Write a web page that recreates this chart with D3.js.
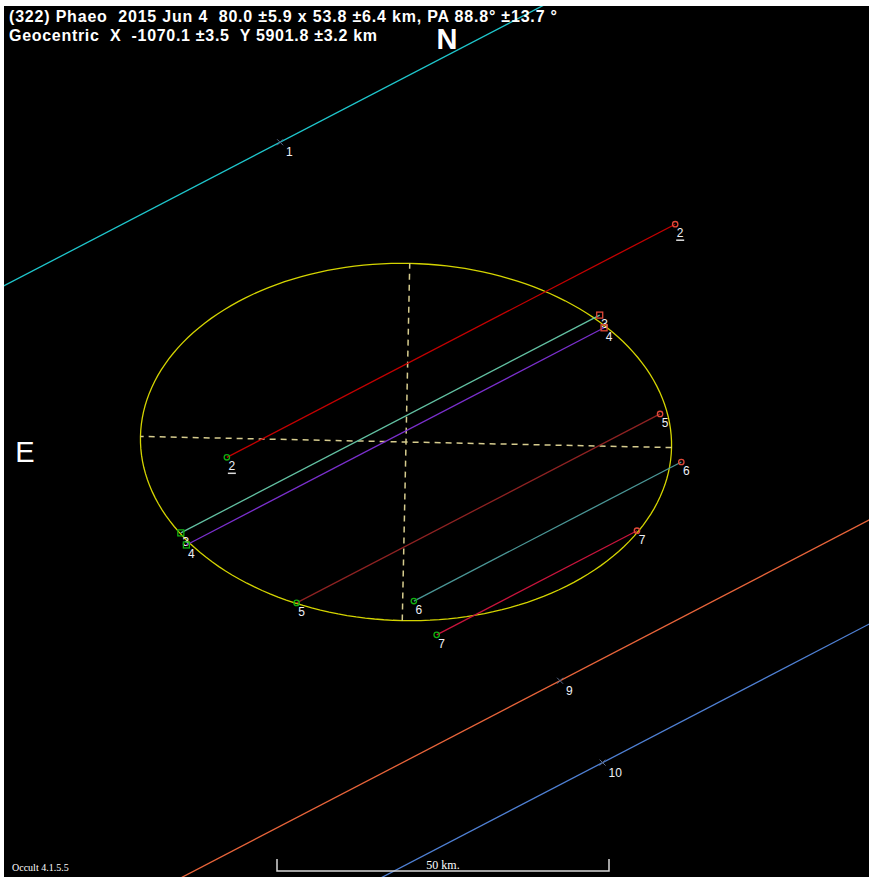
<!DOCTYPE html>
<html>
<head>
<meta charset="utf-8">
<script src="https://cdn.jsdelivr.net/npm/d3@7"></script>
<style>
  body { margin: 0; background: #fff; }
  text { font-family: "Liberation Sans", Arial, sans-serif; white-space: pre; }
</style>
</head>
<body>
<div id="plot"></div>
<script>
// chords, km relative to the fitted centre: offset across track, start/end along track
var chordIds     = ["1", "2", "3", "4", "5", "6", "7", "9", "10"];
var chordOffsets = [48.8, 10.4, 3.5, 1.5, -13.9, -21.8, -27.9, -42.6, -56.5];
var chordStarts  = [null, -25.0, -36.4, -36.5, -25.8, -10.0, -9.3, null, null];
var chordEnds    = [null, 51.1, 34.7, 34.4, 35.9, 35.4, 24.7, null, null];
var chordColors  = ["#1fc6cc", "#c40000", "#62c0a2", "#7a2fcc", "#8e2222", "#4a9696", "#c8143c", "#e8643a", "#4f80d4"];
var chordSquare  = [false, false, true, true, false, false, false, false, false];
var chordUnderline = [false, true, false, false, false, false, false, false, false];
var missTickAlong = 4.0;

// fitted ellipse
var majorAxis = 80.0, minorAxis = 53.8, posAngle = 88.8;
var motionAngle = 27.47;   // degrees, track direction on the sky plot

var titleLines = [
  "(322) Phaeo  2015 Jun 4  80.0 \u00b15.9 x 53.8 \u00b16.4 km, PA 88.8\u00b0 \u00b113.7 \u00b0",
  "Geocentric  X  -1070.1 \u00b13.5  Y 5901.8 \u00b13.2 km"
];
var titleWidths = [548, 368];
var scaleKm = 50;

var W = 869, H = 877;
var box = {left: 4, top: 6, right: 869, bottom: 877};
var cx = 406, cy = 442, pxPerKm = 6.64;

var svg = d3.select("#plot").append("svg")
    .attr("width", W)
    .attr("height", H);

svg.append("rect").attr("width", W).attr("height", H).attr("fill", "#fff");
svg.append("rect")
    .attr("x", box.left).attr("y", box.top)
    .attr("width", box.right - box.left).attr("height", box.bottom - box.top)
    .attr("fill", "#000");

svg.append("clipPath").attr("id", "clip")
  .append("rect")
    .attr("x", box.left).attr("y", box.top)
    .attr("width", box.right - box.left).attr("height", box.bottom - box.top);

var x = d3.scaleLinear()
  .domain([(box.left - cx) / pxPerKm, (box.right - cx) / pxPerKm])
  .range([box.left, box.right]);
var y = d3.scaleLinear()
  .domain([(cy - box.bottom) / pxPerKm, (cy - box.top) / pxPerKm])
  .range([box.bottom, box.top]);

var th = motionAngle * Math.PI / 180;
var dir = [Math.cos(th), Math.sin(th)];
var nrm = [-Math.sin(th), Math.cos(th)];
function trackPt(off, along) {
  return [nrm[0] * off + dir[0] * along, nrm[1] * off + dir[1] * along];
}

var g = svg.append("g").attr("clip-path", "url(#clip)");

// ellipse, axis direction from PA (east to the left)
var pa = posAngle * Math.PI / 180;
var u = [-Math.sin(pa), Math.cos(pa)];
var v = [-u[1], u[0]];
if (v[1] < 0) v = [-v[0], -v[1]];
var a = majorAxis / 2, b = minorAxis / 2;

var ellPts = d3.range(0, 361, 2).map(function(t) {
  var r = t * Math.PI / 180;
  return [a * Math.cos(r) * u[0] + b * Math.sin(r) * v[0],
          a * Math.cos(r) * u[1] + b * Math.sin(r) * v[1]];
});
var line = d3.line().x(function(d) { return x(d[0]); }).y(function(d) { return y(d[1]); });

g.append("path")
    .attr("d", line(ellPts) + "Z")
    .attr("fill", "none")
    .attr("stroke", "#d4d400")
    .attr("stroke-width", 1.3);

[[u, a], [v, b]].forEach(function(ax) {
  g.append("path")
      .attr("d", line([[-ax[0][0] * ax[1], -ax[0][1] * ax[1]], [ax[0][0] * ax[1], ax[0][1] * ax[1]]]))
      .attr("stroke", "#d6cc8e")
      .attr("stroke-width", 1.5)
      .attr("stroke-dasharray", "6,5");
});

// chords
chordIds.forEach(function(id, i) {
  var off = chordOffsets[i];
  var miss = chordStarts[i] === null;
  var s = miss ? -150 : chordStarts[i];
  var e = miss ? 150 : chordEnds[i];
  g.append("path")
      .attr("d", line([trackPt(off, s), trackPt(off, e)]))
      .attr("stroke", chordColors[i])
      .attr("stroke-width", 1.3);

  var pts = miss ? [trackPt(off, missTickAlong)] : [trackPt(off, s), trackPt(off, e)];
  pts.forEach(function(p, k) {
    var px = x(p[0]), py = y(p[1]);
    if (miss) {
      g.append("path")
          .attr("d", "M" + (px - 3) + "," + (py - 3) + "L" + (px + 3) + "," + (py + 3) +
                     "M" + (px - 3) + "," + (py + 3) + "L" + (px + 3) + "," + (py - 3))
          .attr("stroke", "#5a6a8a")
          .attr("stroke-width", 1);
    } else {
      var col = k === 0 ? "#10b010" : "#e04838";
      if (chordSquare[i]) {
        g.append("rect")
            .attr("x", px - 3).attr("y", py - 3)
            .attr("width", 6).attr("height", 6)
            .attr("fill", "none").attr("stroke", col).attr("stroke-width", 1.3);
      } else {
        g.append("circle")
            .attr("cx", px).attr("cy", py).attr("r", 2.7)
            .attr("fill", "none").attr("stroke", col).attr("stroke-width", 1.3);
      }
    }
    var lx = px + (miss ? 6 : 5), ly = py + (miss ? 10 : 9);
    g.append("text")
        .attr("x", lx).attr("y", ly + 4)
        .attr("text-anchor", miss ? "start" : "middle")
        .attr("fill", "#eef0f6")
        .style("font-size", "12px")
        .text(id);
    if (chordUnderline[i]) {
      g.append("line")
          .attr("x1", lx - 4).attr("x2", lx + 4)
          .attr("y1", ly + 7).attr("y2", ly + 7)
          .attr("stroke", "#dcdcdc").attr("stroke-width", 1.5);
    }
  });
});

// titles
svg.selectAll(".title")
  .data(titleLines)
  .enter().append("text")
    .attr("x", 9)
    .attr("y", function(d, i) { return 22 + i * 19; })
    .attr("fill", "#fff")
    .attr("textLength", function(d, i) { return titleWidths[i]; })
    .attr("lengthAdjust", "spacing")
    .style("font-size", "16px")
    .style("font-weight", "bold")
    .text(function(d) { return d; });

svg.append("text")
    .attr("x", 447).attr("y", 49)
    .attr("text-anchor", "middle")
    .attr("fill", "#fff")
    .style("font-size", "29px")
    .style("font-weight", "bold")
    .text("N");
svg.append("text")
    .attr("x", 25).attr("y", 462)
    .attr("text-anchor", "middle")
    .attr("fill", "#fff")
    .style("font-size", "29px")
    .text("E");

// scale bar
var sbStart = x.invert(277);
var sb = svg.append("g").attr("stroke", "#d8d8d8").attr("stroke-width", 1.5).attr("fill", "none");
sb.append("path")
    .attr("d", "M" + x(sbStart) + ",859V871H" + x(sbStart + scaleKm) + "V859");
svg.append("text")
    .attr("x", x(sbStart + scaleKm / 2)).attr("y", 869)
    .attr("text-anchor", "middle")
    .attr("fill", "#fff")
    .style("font-family", "'Liberation Serif', serif")
    .style("font-size", "12px")
    .text(scaleKm + " km.");
svg.append("text")
    .attr("x", 12).attr("y", 871)
    .attr("fill", "#fff")
    .style("font-family", "'Liberation Serif', serif")
    .style("font-size", "10px")
    .text("Occult 4.1.5.5");
</script>
</body>
</html>
